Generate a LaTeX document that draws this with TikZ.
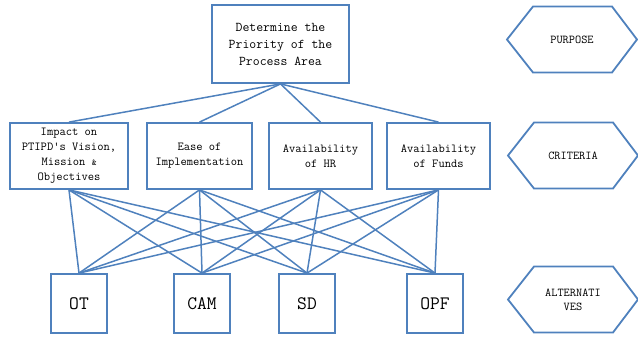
\documentclass[tikz,border=0pt]{standalone}
\usepackage{fontspec}
\newfontfamily\cour{Latin Modern Mono}
\begin{document}
\begin{tikzpicture}[x=1pt,y=-1pt,
  box/.style={draw=hbl, line width=1.8pt, fill=white, inner sep=0pt, align=center},
  goalbox/.style={box, minimum width=137pt, minimum height=78pt, font=\cour\fontsize{13.4}{17}\selectfont},
  critbox/.style={box, minimum height=66pt, font=\cour\fontsize{12.2}{15}\selectfont},
  altbox/.style={box, minimum width=56pt, minimum height=59pt, font=\cour\fontsize{19}{20}\selectfont},
  link/.style={draw=hbl, line width=1.5pt},
  tag/.style={align=center, inner sep=0pt, font=\cour\fontsize{12}{14}\selectfont},
  hexa/.style={draw=hbl, line width=1.8pt, line join=miter}
]
\definecolor{hbl}{RGB}{79,129,189}
\useasboundingbox (0,0) rectangle (638,338);

% goal
\node[goalbox] (goal) at (280.5,44) {Determine the\\Priority of the\\Process Area};

% criteria
\node[critbox, minimum width=118pt] (c1) at (69,156) {Impact on\\PTIPD\textquotesingle s Vision,\\Mission {\fontsize{9}{15}\selectfont\&}\\Objectives};
\node[critbox, minimum width=105pt] (c2) at (199.5,156) {Ease of\\Implementation};
\node[critbox, minimum width=103pt] (c3) at (320.5,156) {Availability\\of HR};
\node[critbox, minimum width=103pt] (c4) at (438.5,156) {Availability\\of Funds};

% alternatives
\node[altbox] (a1) at (79,303.5) {OT};
\node[altbox] (a2) at (202,303.5) {CAM};
\node[altbox] (a3) at (307,303.5) {SD};
\node[altbox] (a4) at (435,303.5) {OPF};

% connectors
\foreach \c in {c1,c2,c3,c4}
  \draw[link] (goal.south) -- (\c.north);
\foreach \c in {c1,c2,c3,c4}
  \foreach \a in {a1,a2,a3,a4}
    \draw[link] (\c.south) -- (\a.north);

% level labels in hexagons
\node[tag] (purpose) at (572,39.5) {PURPOSE};
\node[tag] (criteria) at (573,155.5) {CRITERIA};
\node[tag] (alts) at (573,299.5) {ALTERNATI\\VES};
\foreach \h in {purpose,criteria,alts}
  \draw[hexa, shift={(\h.center)}] (-65,0) -- (-39,-33) -- (40,-33) -- (65,0) -- (40,33) -- (-39,33) -- cycle;
\end{tikzpicture}
\end{document}
